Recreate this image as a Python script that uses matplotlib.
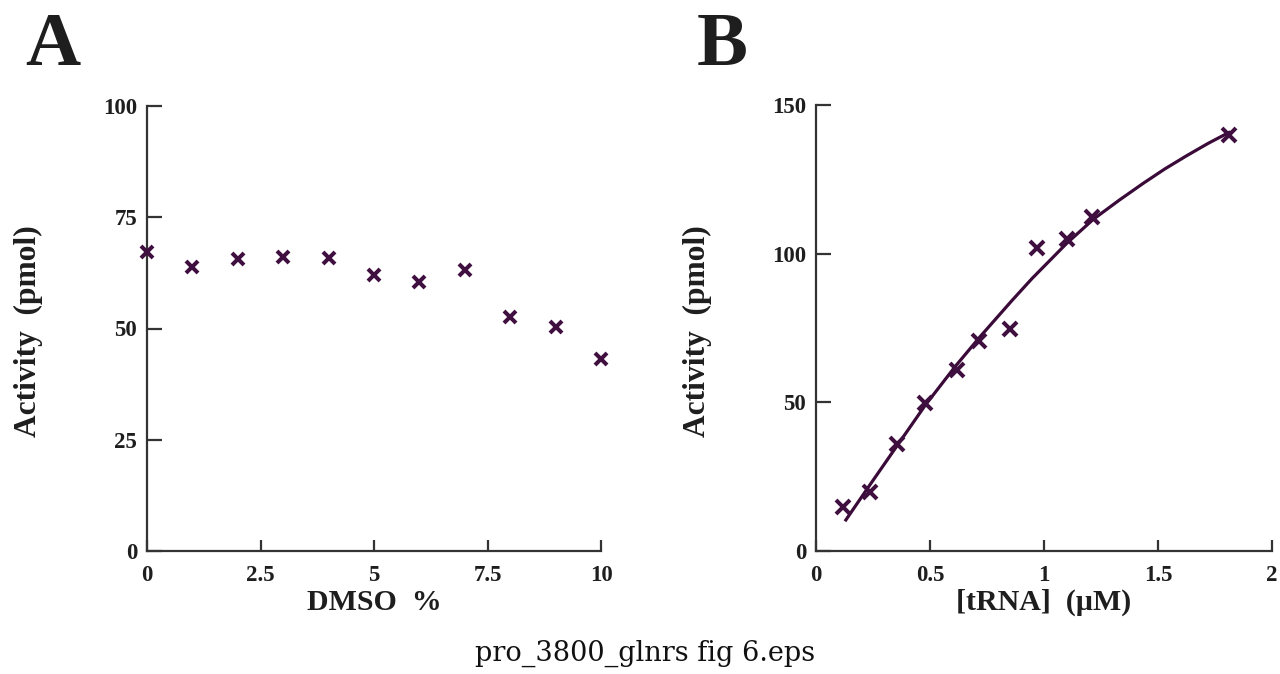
import matplotlib
matplotlib.use("Agg")
import matplotlib.pyplot as plt

# ---- Data ----
dmso_pct = [0, 1, 2, 3, 4, 5, 6, 7, 8, 9, 10]
dmso_activity = [67.3, 63.8, 65.6, 66.0, 65.8, 62.1, 60.4, 63.1, 52.6, 50.3, 43.2]

trna_conc = [0.12, 0.237, 0.357, 0.478, 0.617, 0.717, 0.849, 0.970, 1.10, 1.21, 1.81]
trna_activity = [14.8, 19.9, 35.9, 49.8, 60.8, 70.7, 74.5, 102.0, 104.9, 112.4, 139.9]

# fitted curve
fit_x = [0.127, 0.237, 0.361, 0.478, 0.610, 0.720, 0.859, 0.947, 1.100, 1.217,
         1.330, 1.436, 1.530, 1.627, 1.720, 1.817]
fit_y = [10.0, 22.3, 36.0, 48.9, 62.0, 72.1, 84.2, 91.6, 103.5, 111.6,
         118.0, 123.7, 128.5, 133.0, 137.1, 141.0]

a_xticks = [0, 2.5, 5, 7.5, 10]
a_xticklabels = ["0", "2.5", "5", "7.5", "10"]
a_yticks = [0, 25, 50, 75, 100]
b_xticks = [0, 0.5, 1, 1.5, 2]
b_xticklabels = ["0", "0.5", "1", "1.5", "2"]
b_yticks = [0, 50, 100, 150]

SERIF = "Liberation Serif"
MARK = "#3f0f3f"
LINE = "#3a0a38"
SPINE = "#333333"
TXT = "#1e1e1e"

fig = plt.figure(figsize=(12.8, 6.74), dpi=100)
fig.patch.set_facecolor("white")


def style_axes(ax, xticks, xticklabels, yticks, xlabel, ylabel, xlim, ylim):
    ax.set_xlim(*xlim)
    ax.set_ylim(*ylim)
    for s in ("top", "right"):
        ax.spines[s].set_visible(False)
    for s in ("left", "bottom"):
        ax.spines[s].set_linewidth(1.6)
        ax.spines[s].set_color(SPINE)
    ax.set_xticks(xticks)
    ax.set_xticklabels(xticklabels)
    ax.set_yticks(yticks)
    ax.tick_params(axis="y", direction="in", length=11, width=1.6, color=SPINE,
                   pad=7, labelsize=16.5, labelcolor=TXT)
    ax.tick_params(axis="x", direction="in", length=8, width=1.6, color=SPINE,
                   pad=10, labelsize=16.5, labelcolor=TXT)
    for lab in ax.get_xticklabels() + ax.get_yticklabels():
        lab.set_fontfamily(SERIF)
        lab.set_fontweight("bold")
    ax.set_xlabel(xlabel, fontsize=21.5, fontfamily=SERIF, fontweight="bold", color=TXT)
    ax.set_ylabel(ylabel, fontsize=22.7, fontfamily=SERIF, fontweight="bold", color=TXT)
    ax.xaxis.set_label_coords(0.5, -0.085)
    ax.yaxis.set_label_coords(-0.228, 0.493)
    ax.set_facecolor("white")


# ---- Panel A ----
axA = fig.add_axes([147 / 1280, 123 / 674, 454 / 1280, 445 / 674])
axA.plot(dmso_pct, dmso_activity, linestyle="none", marker="x", ms=9, mew=2.9,
         color=MARK, clip_on=False, zorder=3)
style_axes(axA, a_xticks, a_xticklabels, a_yticks, "DMSO  %", "Activity  (pmol)",
           (0, 10), (0, 100))

# ---- Panel B ----
axB = fig.add_axes([816 / 1280, 123 / 674, 456 / 1280, 446 / 674])
axB.plot(fit_x, fit_y, color=LINE, lw=2.3, solid_capstyle="butt",
         solid_joinstyle="round", zorder=2)
axB.plot(trna_conc, trna_activity, linestyle="none", marker="x", ms=9.5, mew=2.9,
         color=MARK, clip_on=False, zorder=3)
style_axes(axB, b_xticks, b_xticklabels, b_yticks, "[tRNA]  (\u00b5M)", "Activity  (pmol)",
           (0, 2), (0, 150))

# ---- Panel letters & caption ----
fig.text(25 / 1280, 1 - 65 / 674, "A", fontsize=55, fontfamily=SERIF, fontweight="bold",
         color=TXT, ha="left", va="baseline")
fig.text(697 / 1280, 1 - 65 / 674, "B", fontsize=55, fontfamily=SERIF, fontweight="bold",
         color=TXT, ha="left", va="baseline")
fig.text(645 / 1280, 1 - 661 / 674, "pro_3800_glnrs fig 6.eps", fontsize=19.5,
         fontfamily="DejaVu Serif", color="#111111", ha="center", va="baseline")

fig.savefig("out.png", dpi=100, facecolor="white")
